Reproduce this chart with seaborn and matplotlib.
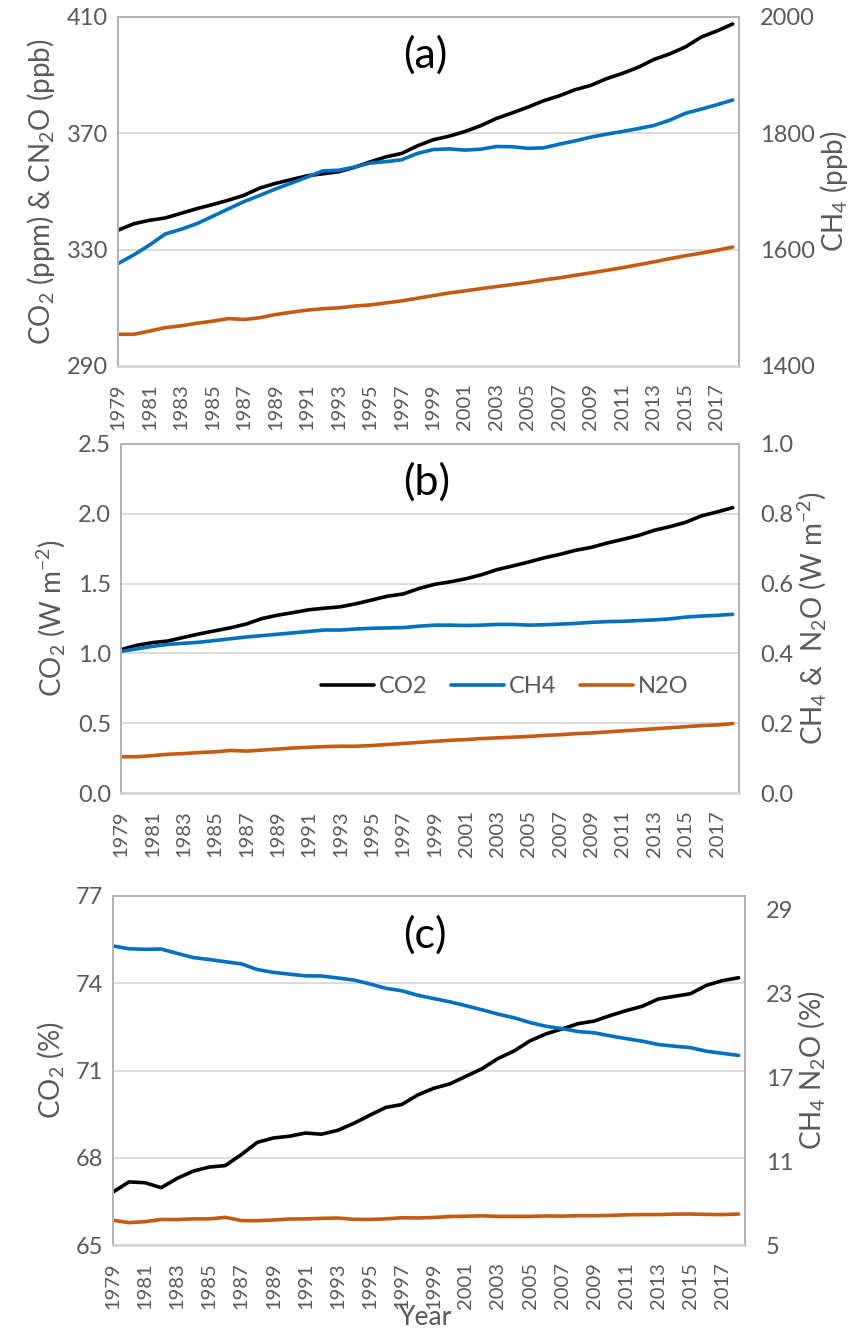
import matplotlib
matplotlib.use("Agg")
import matplotlib.pyplot as plt
import seaborn as sns
from matplotlib.ticker import FixedLocator, FormatStrFormatter
from matplotlib.lines import Line2D

years = list(range(1979, 2019))

# (a) concentrations
co2_ppm = [336.7, 338.9, 340.1, 340.9, 342.5, 344.1, 345.5, 347.0, 348.7, 351.2,
           352.8, 354.1, 355.4, 356.1, 356.8, 358.3, 360.2, 361.9, 363.1, 365.7,
           367.8, 369.0, 370.6, 372.6, 375.1, 377.0, 379.0, 381.2, 382.9, 385.0,
           386.5, 388.8, 390.6, 392.7, 395.4, 397.3, 399.7, 403.1, 405.2, 407.6]
ch4_ppb = [1576, 1591, 1608, 1627, 1635, 1644.7, 1657.3, 1670.1, 1682.7, 1693.3,
           1704.5, 1714.4, 1724.8, 1735.5, 1736.5, 1742.1, 1748.9, 1751.3, 1754.6, 1765.5,
           1772.1, 1773.2, 1771.2, 1772.7, 1777.3, 1777.0, 1774.2, 1775.0, 1781.4, 1787.0,
           1793.5, 1798.6, 1803.1, 1808.1, 1813.5, 1822.6, 1834.4, 1841.6, 1849.2, 1857.3]
n2o_ppb = [300.9, 300.9, 302.0, 303.2, 303.8, 304.7, 305.4, 306.3, 306.0, 306.6,
           307.7, 308.5, 309.2, 309.7, 310.0, 310.6, 311.0, 311.7, 312.4, 313.3,
           314.2, 315.1, 315.8, 316.6, 317.3, 318.0, 318.7, 319.6, 320.3, 321.2,
           322.0, 322.9, 323.8, 324.8, 325.8, 326.9, 327.9, 328.8, 329.8, 330.9]

# (b) radiative forcing, W m-2
co2_rf = [1.027, 1.058, 1.077, 1.089, 1.115, 1.140, 1.162, 1.184, 1.211, 1.250,
          1.274, 1.293, 1.313, 1.324, 1.334, 1.356, 1.383, 1.410, 1.426, 1.465,
          1.495, 1.513, 1.535, 1.564, 1.601, 1.627, 1.655, 1.685, 1.710, 1.739,
          1.760, 1.791, 1.817, 1.845, 1.882, 1.908, 1.939, 1.985, 2.013, 2.044]
ch4_rf = [0.406, 0.413, 0.420, 0.426, 0.429, 0.432, 0.437, 0.442, 0.447, 0.451,
          0.455, 0.459, 0.463, 0.467, 0.467, 0.470, 0.472, 0.473, 0.474, 0.478,
          0.481, 0.481, 0.480, 0.481, 0.483, 0.483, 0.481, 0.482, 0.484, 0.486,
          0.489, 0.491, 0.492, 0.494, 0.496, 0.499, 0.504, 0.507, 0.509, 0.512]
n2o_rf = [0.104, 0.104, 0.107, 0.111, 0.113, 0.116, 0.118, 0.122, 0.120, 0.123,
          0.126, 0.129, 0.131, 0.133, 0.134, 0.134, 0.136, 0.139, 0.142, 0.145,
          0.148, 0.151, 0.153, 0.156, 0.158, 0.160, 0.162, 0.165, 0.167, 0.170,
          0.172, 0.175, 0.178, 0.181, 0.184, 0.187, 0.190, 0.193, 0.195, 0.199]

# (c) share of total forcing, %
co2_pct = [66.82, 67.17, 67.14, 66.97, 67.29, 67.54, 67.68, 67.73, 68.11, 68.53,
           68.68, 68.74, 68.85, 68.81, 68.94, 69.18, 69.46, 69.73, 69.83, 70.16,
           70.39, 70.54, 70.80, 71.06, 71.41, 71.67, 72.02, 72.26, 72.43, 72.61,
           72.70, 72.89, 73.06, 73.21, 73.46, 73.55, 73.64, 73.93, 74.09, 74.19]
ch4_pct = [26.42, 26.22, 26.18, 26.20, 25.89, 25.59, 25.45, 25.29, 25.14, 24.73,
           24.53, 24.40, 24.28, 24.27, 24.13, 23.98, 23.71, 23.39, 23.21, 22.89,
           22.65, 22.42, 22.14, 21.85, 21.54, 21.28, 20.93, 20.67, 20.50, 20.29,
           20.20, 19.98, 19.78, 19.60, 19.36, 19.24, 19.14, 18.88, 18.73, 18.58]
n2o_pct = [6.77, 6.60, 6.67, 6.83, 6.82, 6.87, 6.87, 6.98, 6.75, 6.74,
           6.79, 6.86, 6.87, 6.91, 6.93, 6.84, 6.83, 6.87, 6.95, 6.94,
           6.97, 7.04, 7.06, 7.09, 7.05, 7.05, 7.05, 7.08, 7.07, 7.10,
           7.10, 7.12, 7.16, 7.18, 7.18, 7.21, 7.22, 7.19, 7.18, 7.22]

series_names = ["CO2", "CH4", "N2O"]
year_labels = [str(y) for y in range(1979, 2018, 2)]

C_CO2 = "#000000"
C_CH4 = "#0070C0"
C_N2O = "#C55A11"
GRAY_TXT = "#595959"
GRAY_FRAME = "#B3B3B3"
GRAY_AXIS = "#D6D6D6"
GRAY_GRID = "#D9D9D9"
LW = 2.6
TICK_FS = 17
XTICK_FS = 14.5
LABEL_FS = 20

sns.set_theme(style="white")
plt.rcParams["font.family"] = ["Lato", "DejaVu Sans"]
plt.rcParams["mathtext.fontset"] = "custom"
plt.rcParams["mathtext.rm"] = "Lato"
plt.rcParams["mathtext.it"] = "Lato"
plt.rcParams["mathtext.default"] = "regular"

fig = plt.figure(figsize=(8.51, 13.32), dpi=100)
W, H = 851, 1332


def rect(left, right, top, bottom):
    return [left / W, (H - bottom) / H, (right - left) / W, (bottom - top) / H]


def steps(lo, hi, step):
    out = []
    v = lo
    while v <= hi + 1e-9:
        out.append(round(v, 6))
        v += step
    return out


def style_panel(ax, ax2, ylim, yticks, y2lim, y2ticks, fmt):
    ax.set_xlim(1979, 2018.4)
    ax.set_ylim(*ylim)
    ax2.set_ylim(*y2lim)
    ax.yaxis.set_major_locator(FixedLocator(yticks))
    ax.yaxis.set_major_formatter(FormatStrFormatter(fmt))
    ax2.yaxis.set_major_locator(FixedLocator(y2ticks))
    ax2.yaxis.set_major_formatter(FormatStrFormatter(fmt))
    ax.xaxis.set_major_locator(FixedLocator([int(s) for s in year_labels]))
    ax.set_xticklabels(year_labels, rotation=90)
    ax.xaxis.set_minor_locator(FixedLocator(years))
    ax.tick_params(axis="x", which="both", direction="in", length=4.5, width=1.1,
                   color=GRAY_AXIS, labelsize=XTICK_FS, labelcolor=GRAY_TXT, pad=12.5)
    ax.tick_params(axis="y", length=0, labelsize=TICK_FS, labelcolor=GRAY_TXT, pad=7)
    ax2.tick_params(axis="y", length=0, labelsize=TICK_FS, labelcolor=GRAY_TXT, pad=15)
    ax.yaxis.grid(True, color=GRAY_GRID, lw=1.3)
    ax.xaxis.grid(False)
    for a in (ax, ax2):
        for s in a.spines.values():
            s.set_color(GRAY_FRAME)
            s.set_linewidth(1.4)
        a.spines["bottom"].set_color(GRAY_AXIS)
        a.spines["bottom"].set_linewidth(1.8)
    ax.set_xlabel("")


def line(ax, y, color):
    sns.lineplot(x=years, y=y, ax=ax, color=color, lw=LW, legend=False)
    ln = ax.lines[-1]
    ln.set_solid_capstyle("round")
    return ln


def panel_tag(ax, text, y):
    ax.text(0.494, y, text, transform=ax.transAxes, ha="center", va="center",
            fontsize=31, color="black")


# ---- (a) concentrations
axa = fig.add_axes(rect(118, 739, 17, 366))
axa2 = axa.twinx()
line(axa, co2_ppm, C_CO2)
line(axa, n2o_ppb, C_N2O)
line(axa2, ch4_ppb, C_CH4)
style_panel(axa, axa2, (290, 410), steps(290, 410, 40), (1400, 2000), steps(1400, 2000, 200), "%d")
axa.set_ylabel("CO$_2$ (ppm) & CN$_2$O (ppb)", fontsize=LABEL_FS, color=GRAY_TXT, labelpad=7)
axa2.set_ylabel("CH$_4$ (ppb)", fontsize=LABEL_FS, color=GRAY_TXT, labelpad=2)
panel_tag(axa, "(a)", 0.89)

# ---- (b) radiative forcing
axb = fig.add_axes(rect(121, 739, 444, 793))
axb2 = axb.twinx()
line(axb, co2_rf, C_CO2)
line(axb2, ch4_rf, C_CH4)
line(axb2, n2o_rf, C_N2O)
style_panel(axb, axb2, (0, 2.5), steps(0, 2.5, 0.5), (0, 1.0), steps(0, 1.0, 0.2), "%.1f")
axb.set_ylabel("CO$_2$ (W m$^{-2}$)", fontsize=LABEL_FS, color=GRAY_TXT, labelpad=7)
axb2.set_ylabel("CH$_4$ &  N$_2$O (W m$^{-2}$)", fontsize=LABEL_FS, color=GRAY_TXT, labelpad=2)
panel_tag(axb, "(b)", 0.891)
handles = [Line2D([], [], color=c, lw=LW) for c in (C_CO2, C_CH4, C_N2O)]
leg = axb.legend(handles, series_names, loc="center", bbox_to_anchor=(0.621, 0.304),
                 ncol=3, frameon=False, fontsize=TICK_FS, handlelength=2.25,
                 handletextpad=0.2, columnspacing=1.0)
for t in leg.get_texts():
    t.set_color(GRAY_TXT)
leg.set_zorder(5)

# ---- (c) shares
axc = fig.add_axes(rect(113, 745, 896, 1245))
axc2 = axc.twinx()
line(axc, co2_pct, C_CO2)
line(axc2, ch4_pct, C_CH4)
line(axc2, n2o_pct, C_N2O)
style_panel(axc, axc2, (65, 77), steps(65, 77, 3), (5, 30), steps(5, 29, 6), "%d")
axc.set_ylabel("CO$_2$ (%)", fontsize=LABEL_FS, color=GRAY_TXT, labelpad=7)
axc2.set_ylabel("CH$_4$ N$_2$O (%)", fontsize=LABEL_FS, color=GRAY_TXT, labelpad=2)
axc.set_xlabel("Year", fontsize=19, color=GRAY_TXT)
axc.xaxis.label.set_va("baseline")
axc.xaxis.set_label_coords(0.494, -0.228)
panel_tag(axc, "(c)", 0.888)

fig.savefig("out.png", dpi=100)
